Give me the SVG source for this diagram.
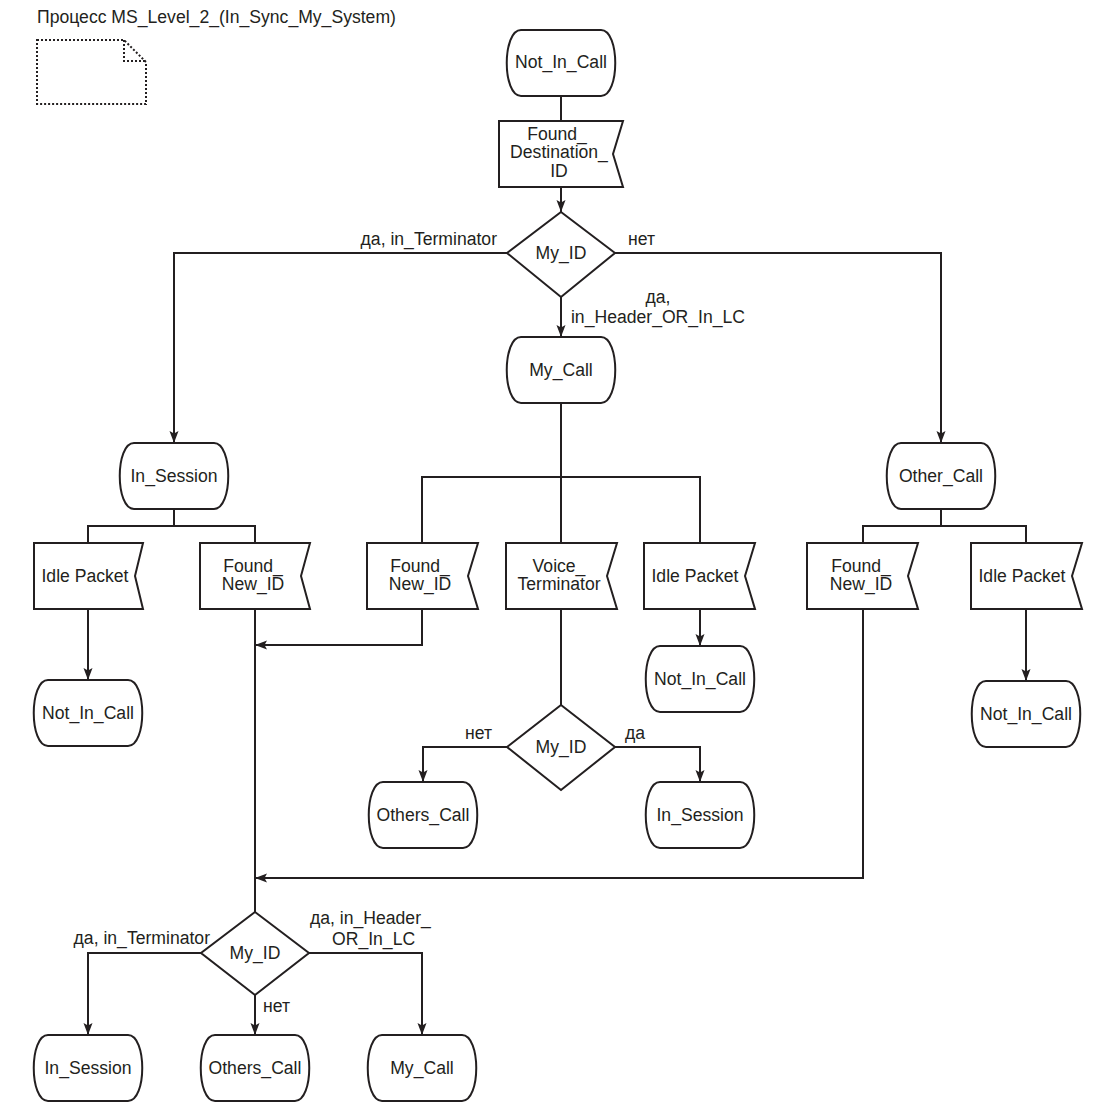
<svg xmlns="http://www.w3.org/2000/svg" width="1102" height="1118" viewBox="0 0 1102 1118">
<defs>
<style>
.sh{fill:#fff;stroke:#231f20;stroke-width:2;stroke-linejoin:miter}
.cn{fill:none;stroke:#231f20;stroke-width:2}
text{font-family:"Liberation Sans",Arial,Helvetica,sans-serif;font-size:17.6px;fill:#231f20}
.m{text-anchor:middle}
.e{text-anchor:end}
</style>
<marker id="arr" viewBox="0 0 12 10" refX="12" refY="5" markerWidth="12" markerHeight="10" markerUnits="userSpaceOnUse" orient="auto">
<path d="M0,0.5 L12,5 L0,9.5 L2.5,5 Z" fill="#231f20"/>
</marker>
</defs>
<rect width="1102" height="1118" fill="#fff"/>
<text x="37" y="23">Процесс MS_Level_2_(In_Sync_My_System)</text>
<g id="page">
<path d="M37,40 H124 L146,62 V104 H37 Z M124,40 V61 H146" fill="none" stroke="#231f20" stroke-width="2" stroke-dasharray="2 2"/>
</g>
<g id="connectors">
<path class="cn" d="M561,96 V121"/>
<path class="cn" d="M561,187 V212" marker-end="url(#arr)"/>
<path class="cn" d="M507,253 H174 V443" marker-end="url(#arr)"/>
<path class="cn" d="M615,253 H941 V443" marker-end="url(#arr)"/>
<path class="cn" d="M561,297 V337" marker-end="url(#arr)"/>
<path class="cn" d="M561,403 V543 M422,543 V477 H700 V543"/>
<path class="cn" d="M174,509 V526 M88,543 V526 H255 V543"/>
<path class="cn" d="M941,509 V526 M863,543 V526 H1026 V543"/>
<path class="cn" d="M88,609 V680" marker-end="url(#arr)"/>
<path class="cn" d="M255,609 V912"/>
<path class="cn" d="M422,609 V645 H255" marker-end="url(#arr)"/>
<path class="cn" d="M561,609 V705"/>
<path class="cn" d="M700,609 V646" marker-end="url(#arr)"/>
<path class="cn" d="M1026,609 V681" marker-end="url(#arr)"/>
<path class="cn" d="M507,747 H423 V782" marker-end="url(#arr)"/>
<path class="cn" d="M615,747 H700 V782" marker-end="url(#arr)"/>
<path class="cn" d="M863,609 V878 H255" marker-end="url(#arr)"/>
<path class="cn" d="M201,953 H88 V1035" marker-end="url(#arr)"/>
<path class="cn" d="M255,995 V1035" marker-end="url(#arr)"/>
<path class="cn" d="M309,953 H422 V1035" marker-end="url(#arr)"/>
<text class="e" x="497" y="245">да, in_Terminator</text>
<text x="628" y="245">нет</text>
<text class="m" x="658" y="303">да,</text>
<text class="m" x="658" y="323">in_Header_OR_In_LC</text>
<text x="465" y="739">нет</text>
<text x="625" y="739">да</text>
<text class="e" x="210" y="944">да, in_Terminator</text>
<text x="263" y="1012">нет</text>
<text x="310" y="924">да, in_Header_</text>
<text x="332" y="945">OR_In_LC</text>
</g>
<g id="n_not_in_call_top">
<path class="sh" d="M521,30 H601 C620,30 620,96 601,96 H521 C502,96 502,30 521,30 Z"/>
<text class="m" x="561" y="68">Not_In_Call</text>
</g>
<g id="n_found_dest">
<path class="sh" d="M499,121 H623 L613,154 L623,187 H499 Z"/>
<text class="m" x="557" y="140">Found_</text>
<text class="m" x="559" y="158">Destination_</text>
<text class="m" x="559" y="177">ID</text>
</g>
<g id="n_myid_1">
<path class="sh" d="M561,212 L615,253 L561,297 L507,253 Z"/>
<text class="m" x="561" y="259">My_ID</text>
</g>
<g id="n_my_call">
<path class="sh" d="M521,337 H601 C620,337 620,403 601,403 H521 C502,403 502,337 521,337 Z"/>
<text class="m" x="561" y="376">My_Call</text>
</g>
<g id="n_in_session_1">
<path class="sh" d="M134,443 H214 C233,443 233,509 214,509 H134 C115,509 115,443 134,443 Z"/>
<text class="m" x="174" y="482">In_Session</text>
</g>
<g id="n_other_call">
<path class="sh" d="M901,443 H981 C1000,443 1000,509 981,509 H901 C882,509 882,443 901,443 Z"/>
<text class="m" x="941" y="482">Other_Call</text>
</g>
<g id="n_idle_1">
<path class="sh" d="M34,543 H143 L135,576 L143,609 H34 Z"/>
<text class="m" x="85" y="582">Idle Packet</text>
</g>
<g id="n_found_new_1">
<path class="sh" d="M200,543 H310 L301,576 L310,609 H200 Z"/>
<text class="m" x="253" y="572">Found_</text>
<text class="m" x="253" y="590">New_ID</text>
</g>
<g id="n_found_new_2">
<path class="sh" d="M367,543 H478 L468,576 L478,609 H367 Z"/>
<text class="m" x="420" y="572">Found_</text>
<text class="m" x="420" y="590">New_ID</text>
</g>
<g id="n_voice_term">
<path class="sh" d="M506,543 H617 L607,576 L617,609 H506 Z"/>
<text class="m" x="559" y="572">Voice_</text>
<text class="m" x="559" y="590">Terminator</text>
</g>
<g id="n_idle_2">
<path class="sh" d="M644,543 H755 L745,576 L755,609 H644 Z"/>
<text class="m" x="695" y="582">Idle Packet</text>
</g>
<g id="n_found_new_3">
<path class="sh" d="M807,543 H918 L908,576 L918,609 H807 Z"/>
<text class="m" x="861" y="572">Found_</text>
<text class="m" x="861" y="590">New_ID</text>
</g>
<g id="n_idle_3">
<path class="sh" d="M971,543 H1082 L1072,576 L1082,609 H971 Z"/>
<text class="m" x="1022" y="582">Idle Packet</text>
</g>
<g id="n_not_in_call_left">
<path class="sh" d="M48,680 H128 C147,680 147,746 128,746 H48 C29,746 29,680 48,680 Z"/>
<text class="m" x="88" y="719">Not_In_Call</text>
</g>
<g id="n_not_in_call_mid">
<path class="sh" d="M660,646 H740 C759,646 759,712 740,712 H660 C641,712 641,646 660,646 Z"/>
<text class="m" x="700" y="685">Not_In_Call</text>
</g>
<g id="n_not_in_call_right">
<path class="sh" d="M986,681 H1066 C1085,681 1085,747 1066,747 H986 C967,747 967,681 986,681 Z"/>
<text class="m" x="1026" y="720">Not_In_Call</text>
</g>
<g id="n_myid_2">
<path class="sh" d="M561,705 L615,747 L561,790 L507,747 Z"/>
<text class="m" x="561" y="753">My_ID</text>
</g>
<g id="n_others_call_1">
<path class="sh" d="M383,782 H463 C482,782 482,848 463,848 H383 C364,848 364,782 383,782 Z"/>
<text class="m" x="423" y="821">Others_Call</text>
</g>
<g id="n_in_session_2">
<path class="sh" d="M660,782 H740 C759,782 759,848 740,848 H660 C641,848 641,782 660,782 Z"/>
<text class="m" x="700" y="821">In_Session</text>
</g>
<g id="n_myid_3">
<path class="sh" d="M255,912 L309,953 L255,995 L201,953 Z"/>
<text class="m" x="255" y="959">My_ID</text>
</g>
<g id="n_in_session_3">
<path class="sh" d="M48,1035 H128 C147,1035 147,1101 128,1101 H48 C29,1101 29,1035 48,1035 Z"/>
<text class="m" x="88" y="1074">In_Session</text>
</g>
<g id="n_others_call_2">
<path class="sh" d="M215,1035 H295 C314,1035 314,1101 295,1101 H215 C196,1101 196,1035 215,1035 Z"/>
<text class="m" x="255" y="1074">Others_Call</text>
</g>
<g id="n_my_call_2">
<path class="sh" d="M382,1035 H462 C481,1035 481,1101 462,1101 H382 C363,1101 363,1035 382,1035 Z"/>
<text class="m" x="422" y="1074">My_Call</text>
</g>
</svg>
